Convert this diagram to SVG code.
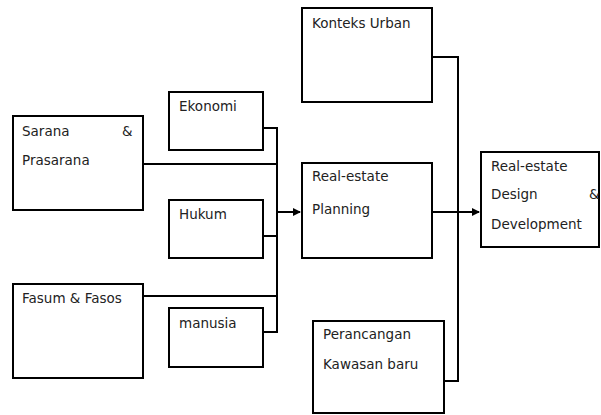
<svg xmlns="http://www.w3.org/2000/svg" width="601" height="415" viewBox="0 0 601 415">
<style>
.box{fill:#fff;stroke:#000;stroke-width:2}
.t{font-family:"DejaVu Sans",sans-serif;font-size:13.5px;fill:#222}
.c{fill:none;stroke:#000;stroke-width:2}
</style>
<defs>
<marker id="ah" markerWidth="8" markerHeight="8" refX="7" refY="4" orient="auto" markerUnits="userSpaceOnUse">
<path d="M0,0 L8,4 L0,8 Z" fill="#000"/>
</marker>
</defs>
<rect width="601" height="415" fill="#fff"/>
<g id="connectors">
<path class="c" d="M263,128 H277 V332 H263"/>
<path class="c" d="M143,164 H277"/>
<path class="c" d="M263,236 H277"/>
<path class="c" d="M143,296 H277"/>
<path class="c" d="M277,212 H300" marker-end="url(#ah)"/>
<path class="c" d="M432,57 H458 V381 H444"/>
<path class="c" d="M432,212 H479" marker-end="url(#ah)"/>
</g>
<g id="sarana">
<rect class="box" x="13" y="116" width="130" height="94"/>
<text class="t" x="22" y="136">Sarana</text>
<text class="t" x="122" y="136">&amp;</text>
<text class="t" x="22" y="165">Prasarana</text>
</g>
<g id="ekonomi">
<rect class="box" x="169" y="92" width="94" height="58"/>
<text class="t" x="179" y="111">Ekonomi</text>
</g>
<g id="hukum">
<rect class="box" x="169" y="200" width="94" height="58"/>
<text class="t" x="179" y="219">Hukum</text>
</g>
<g id="fasum">
<rect class="box" x="13" y="284" width="130" height="94"/>
<text class="t" x="22" y="303">Fasum &amp; Fasos</text>
</g>
<g id="manusia">
<rect class="box" x="169" y="308" width="94" height="59"/>
<text class="t" x="179" y="328">manusia</text>
</g>
<g id="konteks">
<rect class="box" x="302" y="8" width="130" height="94"/>
<text class="t" x="312" y="28">Konteks Urban</text>
</g>
<g id="planning">
<rect class="box" x="302" y="163" width="130" height="95"/>
<text class="t" x="312" y="181">Real-estate</text>
<text class="t" x="312" y="214">Planning</text>
</g>
<g id="perancangan">
<rect class="box" x="313" y="321" width="131" height="92"/>
<text class="t" x="323" y="339">Perancangan</text>
<text class="t" x="323" y="369">Kawasan baru</text>
</g>
<g id="design">
<rect class="box" x="481" y="152" width="118" height="95"/>
<text class="t" x="491" y="171">Real-estate</text>
<text class="t" x="491" y="199">Design</text>
<text class="t" x="589" y="199">&amp;</text>
<text class="t" x="491" y="229">Development</text>
</g>
</svg>
